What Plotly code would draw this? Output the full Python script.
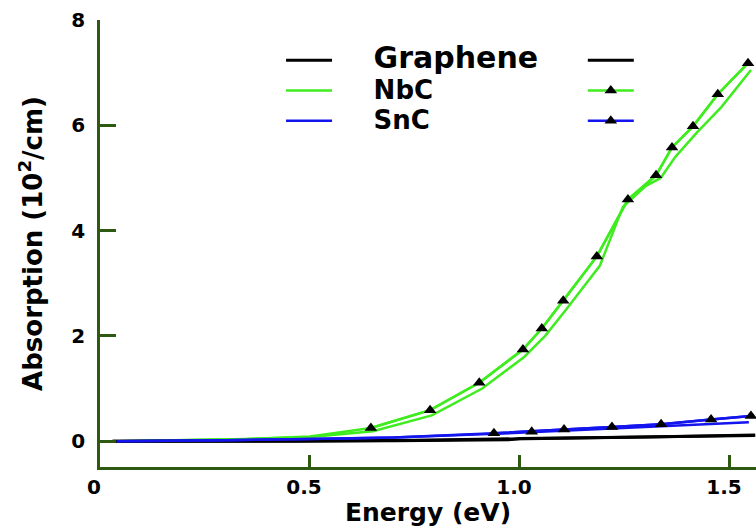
import plotly.graph_objects as go

# Photon energy (eV) and absorption coefficient (10^2/cm)
nbc_e = [0.05, 0.20, 0.35, 0.50, 0.645, 0.786, 0.903, 1.007, 1.052, 1.103, 1.183, 1.257, 1.324, 1.362, 1.412, 1.471, 1.543]
nbc_a = [0.00, 0.02, 0.04, 0.09, 0.25, 0.59, 1.11, 1.74, 2.14, 2.67, 3.51, 4.59, 5.05, 5.58, 5.98, 6.59, 7.18]
nbc_mark_from = 4

nbc_fit_e = [0.05, 0.20, 0.35, 0.50, 0.65, 0.79, 0.91, 1.01, 1.06, 1.11, 1.19, 1.245, 1.30, 1.335, 1.37, 1.42, 1.48, 1.55]
nbc_fit_a = [0.00, 0.02, 0.04, 0.08, 0.19, 0.49, 1.00, 1.60, 2.00, 2.50, 3.33, 4.45, 4.85, 5.00, 5.40, 5.85, 6.35, 7.05]

snc_e = [0.04, 0.12, 0.30, 0.50, 0.70, 0.938, 1.028, 1.105, 1.219, 1.336, 1.455, 1.55]
snc_a = [0.00, 0.01, 0.02, 0.04, 0.07, 0.15, 0.18, 0.22, 0.27, 0.32, 0.41, 0.48]
snc_mark_from = 5

snc_fit_e = [0.04, 0.12, 0.30, 0.50, 0.70, 0.94, 1.10, 1.30, 1.545]
snc_fit_a = [0.00, 0.01, 0.02, 0.04, 0.07, 0.14, 0.20, 0.27, 0.36]

gr_e = [0.03, 0.47, 0.70, 0.98, 1.00, 1.20, 1.40, 1.56]
gr_a = [0.00, 0.00, 0.01, 0.03, 0.05, 0.07, 0.09, 0.11]
gr_fit_e = [0.03, 0.47, 0.75, 1.05, 1.30, 1.56]
gr_fit_a = [0.00, 0.00, 0.02, 0.05, 0.08, 0.12]

x_ticks = [0, 0.5, 1.0, 1.5]
x_labels = ["0", "0.5", "1.0", "1.5"]
y_ticks = [0, 2, 4, 6, 8]

GREEN = "#3fec1f"
BLUE = "#1414ee"
BLACK = "#000000"
AXIS = "#2d5a10"

GAP = "\u00a0" * 5

def label(text, size):
    return f'{GAP}<span style="font-size:{size}px">{text}</span>'

fig = go.Figure()

# NbC
fig.add_trace(go.Scatter(x=nbc_fit_e, y=nbc_fit_a, mode="lines", name=label("NbC", 26),
                         line=dict(color=GREEN, width=2.5), legend="legend", legendrank=2))
fig.add_trace(go.Scatter(x=nbc_e, y=nbc_a, mode="lines", showlegend=False,
                         line=dict(color=GREEN, width=2.5)))
fig.add_trace(go.Scatter(x=nbc_e[nbc_mark_from:], y=nbc_a[nbc_mark_from:], mode="lines+markers", name="\u00a0",
                         line=dict(color=GREEN, width=2.5),
                         marker=dict(symbol="triangle-up", size=11, color=BLACK),
                         legend="legend2", legendrank=2))

# Graphene
fig.add_trace(go.Scatter(x=gr_fit_e, y=gr_fit_a, mode="lines", name=label("Graphene", 30),
                         line=dict(color=BLACK, width=3), legend="legend", legendrank=1))
fig.add_trace(go.Scatter(x=gr_e, y=gr_a, mode="lines", name="\u00a0",
                         line=dict(color=BLACK, width=3), legend="legend2", legendrank=1))

# SnC
fig.add_trace(go.Scatter(x=snc_fit_e, y=snc_fit_a, mode="lines", name=label("SnC", 26),
                         line=dict(color=BLUE, width=2.5), legend="legend", legendrank=3))
fig.add_trace(go.Scatter(x=snc_e, y=snc_a, mode="lines", showlegend=False,
                         line=dict(color=BLUE, width=2.5)))
fig.add_trace(go.Scatter(x=snc_e[snc_mark_from:], y=snc_a[snc_mark_from:], mode="lines+markers", name="\u00a0",
                         line=dict(color=BLUE, width=2.5),
                         marker=dict(symbol="triangle-up", size=11, color=BLACK),
                         legend="legend2", legendrank=3))

tick_font = dict(family="DejaVu Sans", size=20, color=BLACK, weight="bold")
legend_common = dict(font=dict(family="DejaVu Sans", size=21, color=BLACK, weight="bold"),
                     bgcolor="rgba(0,0,0,0)", borderwidth=0, itemwidth=46,
                     xanchor="left", yanchor="top", tracegroupgap=0)

fig.update_layout(
    width=756, height=527,
    margin=dict(l=100, r=0, t=20, b=60),
    paper_bgcolor="white", plot_bgcolor="white",
    showlegend=True,
    legend=dict(x=0.276, y=0.955, **legend_common),
    legend2=dict(x=0.736, y=0.955, **legend_common),
    xaxis=dict(range=[0, 1.562], tickvals=x_ticks, ticktext=x_labels,
               showline=True, linecolor=AXIS, linewidth=2.5, showgrid=False, zeroline=False,
               ticks="inside", ticklen=12, tickwidth=2.5, tickcolor=AXIS,
               tickfont=tick_font, ticklabelshift=-6,
               title=dict(text="Energy (eV)", standoff=8,
                          font=dict(family="DejaVu Sans", size=25, color=BLACK, weight="bold"))),
    yaxis=dict(range=[-0.49, 8], tickvals=y_ticks,
               showline=True, linecolor=AXIS, linewidth=2.5, showgrid=False, zeroline=False,
               ticks="inside", ticklen=16, tickwidth=2.5, tickcolor=AXIS,
               tickfont=tick_font, ticklabelstandoff=8,
               title=dict(text="Absorption (10<sup>2</sup>/cm)", standoff=22,
                          font=dict(family="DejaVu Sans", size=26, color=BLACK, weight="bold"))),
)

fig.write_html("out.html")
